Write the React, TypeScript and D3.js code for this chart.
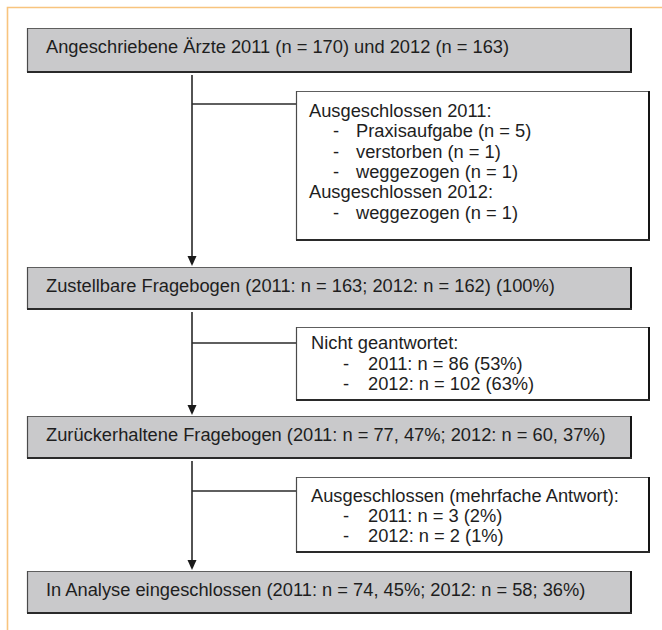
import React from "react";
import * as d3 from "d3";

// ---- Data (texts of the flow chart) ----
const mainSteps: string[] = [
  "Angeschriebene Ärzte 2011 (n = 170) und 2012 (n = 163)",
  "Zustellbare Fragebogen (2011: n = 163; 2012: n = 162) (100%)",
  "Zurückerhaltene Fragebogen (2011: n = 77, 47%; 2012: n = 60, 37%)",
  "In Analyse eingeschlossen (2011: n = 74, 45%; 2012: n = 58; 36%)",
];

// each side box: list of [kind, text]; kind "h" = heading, "i" = bullet item
const exclusion1: [string, string][] = [
  ["h", "Ausgeschlossen 2011:"],
  ["i", "Praxisaufgabe (n = 5)"],
  ["i", "verstorben (n = 1)"],
  ["i", "weggezogen (n = 1)"],
  ["h", "Ausgeschlossen 2012:"],
  ["i", "weggezogen (n = 1)"],
];
const exclusion2: [string, string][] = [
  ["h", "Nicht geantwortet:"],
  ["i", "2011: n = 86 (53%)"],
  ["i", "2012: n = 102 (63%)"],
];
const exclusion3: [string, string][] = [
  ["h", "Ausgeschlossen (mehrfache Antwort):"],
  ["i", "2011: n = 3 (2%)"],
  ["i", "2012: n = 2 (1%)"],
];
const sideBoxes = [exclusion1, exclusion2, exclusion3];

// ---- Layout ----
const W = 662;
const H = 630;
const FONT = "'Liberation Sans', Arial, Helvetica, sans-serif";
const TEXT = "#1e1e1e";
const GRAY = "#c9c9cb";
const FS = 18.3;

const mainX0 = 27, mainX1 = 631;
const mainTops = [28, 267, 416, 571];
const mainBottoms = [72, 309, 458, 613];
const sideX0 = 296, sideX1 = 649;
const sideTops = [91, 327, 477];
const sideBottoms = [240, 400, 552];
const sideFirstBaseline = [117, 349, 502];
const sideLineGap = [20.3, 20.5, 20];
const sideBranchY = [104, 343, 491];
const sideHeadX = [309, 311, 311];
const sideDashX = [333, 343, 343];
const sideItemX = [356, 368, 368];
const connX = 192;

function Box({ x0, x1, y0, y1, fill }: { x0: number; x1: number; y0: number; y1: number; fill: string }) {
  return (
    <g>
      <rect x={x0} y={y0} width={x1 - x0} height={y1 - y0} fill={fill} />
      <line x1={x0} y1={y0 + 0.5} x2={x1} y2={y0 + 0.5} stroke="#5e5e5e" strokeWidth={1.2} />
      <line x1={x0 + 0.5} y1={y0} x2={x0 + 0.5} y2={y1} stroke="#4a4a4a" strokeWidth={1.2} />
      <line x1={x1} y1={y0} x2={x1} y2={y1 + 1} stroke="#151515" strokeWidth={2} />
      <line x1={x0} y1={y1} x2={x1 + 1} y2={y1} stroke="#2a2a2a" strokeWidth={1.8} />
    </g>
  );
}

export default function App() {
  const lineGen = d3.line<[number, number]>();
  const arrowHead = (tipY: number) => {
    const p = d3.path();
    p.moveTo(connX - 4.5, tipY - 10);
    p.lineTo(connX + 4.5, tipY - 10);
    p.lineTo(connX, tipY);
    p.closePath();
    return p.toString();
  };

  // vertical connectors: from below each main box to top of next main box
  const segments = [0, 1, 2].map((i) => ({
    y0: mainBottoms[i] + 3,
    y1: mainTops[i + 1] - 1,
  }));

  return (
    <svg
      width={W}
      height={H}
      viewBox={`0 0 ${W} ${H}`}
      style={{ position: "absolute", left: 0, top: 0, background: "#fff" }}
      fontFamily={FONT}
    >
      {/* orange frame */}
      <path d={lineGen([[7.5, H], [7.5, 7.5], [W, 7.5]]) || ""} fill="none" stroke="#f8c47e" strokeWidth={1.6} />

      {/* connectors */}
      {segments.map((s, i) => (
        <g key={"c" + i}>
          <path d={lineGen([[connX, s.y0], [connX, s.y1 - 8]]) || ""} stroke="#1a1a1a" strokeWidth={1.5} />
          <path d={arrowHead(s.y1)} fill="#1a1a1a" />
          <path d={lineGen([[connX, sideBranchY[i]], [sideX0, sideBranchY[i]]]) || ""} stroke="#2a2a2a" strokeWidth={1.3} />
        </g>
      ))}

      {/* main boxes */}
      {mainSteps.map((t, i) => (
        <g key={"m" + i}>
          <Box x0={mainX0} x1={mainX1} y0={mainTops[i]} y1={mainBottoms[i]} fill={GRAY} />
          <text x={46} y={mainTops[i] + 24.5} fontSize={FS} fill={TEXT}>
            {t}
          </text>
        </g>
      ))}

      {/* side boxes */}
      {sideBoxes.map((lines, i) => (
        <g key={"s" + i}>
          <Box x0={sideX0} x1={sideX1} y0={sideTops[i]} y1={sideBottoms[i]} fill="#fff" />
          {lines.map(([kind, txt], j) => {
            const y = sideFirstBaseline[i] + j * sideLineGap[i];
            return kind === "h" ? (
              <text key={j} x={sideHeadX[i]} y={y} fontSize={FS} fill={TEXT}>
                {txt}
              </text>
            ) : (
              <g key={j}>
                <text x={sideDashX[i]} y={y} fontSize={FS} fill={TEXT}>-</text>
                <text x={sideItemX[i]} y={y} fontSize={FS} fill={TEXT}>{txt}</text>
              </g>
            );
          })}
        </g>
      ))}
    </svg>
  );
}
